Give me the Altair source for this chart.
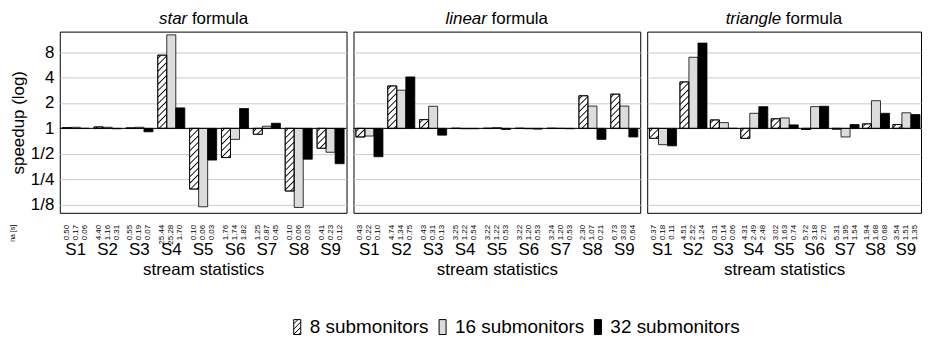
import base64
import altair as alt
import pandas as pd

FONT = "Liberation Sans"

groups = ["S1", "S2", "S3", "S4", "S5", "S6", "S7", "S8", "S9"]
series = ["8 submonitors", "16 submonitors", "32 submonitors"]
formulas = ["star", "linear", "triangle"]

# speedup values (log-scale bars, baseline 1)
star_8 = [1.02, 1.04, 1.01, 7.4, 0.19, 0.45, 0.85, 0.18, 0.58]
star_16 = [1.03, 1.03, 1.03, 12.9, 0.117, 0.74, 1.06, 0.115, 0.52]
star_32 = [1.0, 0.99, 0.91, 1.75, 0.42, 1.72, 1.15, 0.43, 0.38]
linear_8 = [0.79, 3.19, 1.27, 1.0, 1.0, 1.0, 1.0, 2.44, 2.55]
linear_16 = [0.81, 2.84, 1.83, 0.99, 1.02, 0.99, 1.0, 1.84, 1.84]
linear_32 = [0.46, 4.08, 0.83, 0.99, 0.97, 0.98, 0.99, 0.74, 0.79]
triangle_8 = [0.76, 3.56, 1.26, 0.76, 1.30, 0.97, 0.98, 1.13, 1.11]
triangle_16 = [0.64, 6.99, 1.17, 1.51, 1.33, 1.81, 0.79, 2.13, 1.53]
triangle_32 = [0.62, 10.3, 1.0, 1.81, 1.10, 1.83, 1.11, 1.51, 1.46]

# "na [s]" annotation values
star_na_8 = [0.50, 4.40, 0.55, 25.44, 0.10, 1.76, 1.25, 0.10, 0.41]
star_na_16 = [0.17, 1.16, 0.19, 25.28, 0.06, 1.74, 0.87, 0.06, 0.23]
star_na_32 = [0.06, 0.31, 0.07, 1.70, 0.03, 1.82, 0.45, 0.03, 0.12]
linear_na_8 = [0.43, 4.74, 0.43, 3.25, 3.22, 3.22, 3.24, 2.30, 6.73]
linear_na_16 = [0.22, 1.34, 0.31, 1.22, 1.22, 1.20, 1.20, 1.07, 3.03]
linear_na_32 = [0.10, 0.75, 0.13, 0.54, 0.53, 0.53, 0.53, 0.21, 0.64]
triangle_na_8 = [0.37, 4.51, 0.31, 4.31, 3.02, 5.72, 5.31, 1.94, 3.54]
triangle_na_16 = [0.18, 2.52, 0.14, 2.49, 1.63, 3.18, 1.95, 1.68, 1.51]
triangle_na_32 = [0.11, 1.24, 0.06, 2.48, 0.74, 2.70, 1.54, 0.68, 1.35]

speed = {
    "star": [star_8, star_16, star_32],
    "linear": [linear_8, linear_16, linear_32],
    "triangle": [triangle_8, triangle_16, triangle_32],
}
na = {
    "star": [star_na_8, star_na_16, star_na_32],
    "linear": [linear_na_8, linear_na_16, linear_na_32],
    "triangle": [triangle_na_8, triangle_na_16, triangle_na_32],
}

rows = []
for f in formulas:
    for si, s in enumerate(series):
        for gi, g in enumerate(groups):
            rows.append({"formula": f, "series": s, "group": g,
                         "speedup": speed[f][si][gi],
                         "na_label": f"{na[f][si][gi]:.2f}"})
df = pd.DataFrame(rows)
one = pd.DataFrame({"one": [1]})

hatch_svg = (
    '<svg xmlns="http://www.w3.org/2000/svg" width="100%" height="100%">'
    '<defs><pattern id="h" patternUnits="userSpaceOnUse" width="4.6" height="4.6" '
    'patternTransform="rotate(45)"><line x1="2.3" y1="-1" x2="2.3" y2="6" '
    'stroke="black" stroke-width="0.9"/></pattern></defs>'
    '<rect width="100%" height="100%" fill="url(#h)"/></svg>'
)
HATCH_URL = "data:image/svg+xml;base64," + base64.b64encode(hatch_svg.encode()).decode()
RECT_PATH = "M-0.47,-1H0.47V1H-0.47Z"
HATCH_PATH = (RECT_PATH + " M-0.47,-0.43L0.1,-1 M-0.47,0.27L0.47,-0.67"
              " M-0.47,0.97L0.47,0.03 M0.2,1L0.47,0.73")

H = 182
color_scale = alt.Scale(domain=series, range=["#ffffff", "#dcdcdc", "#000000"])
y_scale = alt.Scale(type="log", base=2, domain=[0.0992, 14.1], nice=False)
tick_vals = [0.125, 0.25, 0.5, 1, 2, 4, 8]
label_expr = "datum.value >= 1 ? format(datum.value, 'd') : '1/' + format(1 / datum.value, 'd')"
title_split = {"star": -16, "linear": -10, "triangle": -3}

legend = alt.Legend(title=None, orient="none", legendX=229, legendY=287,
                    direction="horizontal", labelFontSize=19, labelFont=FONT,
                    labelColor="black", symbolSize=225, symbolStrokeColor="black",
                    symbolStrokeWidth=1, symbolOpacity=1, columnPadding=4,
                    labelOffset=3)


def panel(fname, width, first):
    d = df[df.formula == fname]
    xenc = alt.X("group:N", sort=groups,
                 scale=alt.Scale(domain=groups, paddingInner=0.15, paddingOuter=0.075),
                 axis=alt.Axis(title="stream statistics", labelAngle=0, ticks=False,
                               domain=False, labelPadding=29, labelFontSize=17,
                               titleFontSize=17, titleFontWeight="normal",
                               titlePadding=4, grid=False, labelColor="black",
                               titleColor="black"))
    xoff = alt.XOffset("series:N", sort=series,
                       scale=alt.Scale(domain=series, paddingInner=0, paddingOuter=0))
    if first:
        yaxis = alt.Axis(values=tick_vals, labelExpr=label_expr, title="speedup (log)",
                         ticks=False, domain=False, grid=True, gridColor="#cccccc",
                         labelFontSize=17, labelPadding=6, titleFontSize=17,
                         titleFontWeight="normal", titlePadding=3,
                         labelColor="black", titleColor="black")
    else:
        yaxis = alt.Axis(values=tick_vals, labels=False, title=None, ticks=False,
                         domain=False, grid=True, gridColor="#cccccc")
    base = alt.Chart(d).encode(x=xenc, xOffset=xoff)
    yenc = alt.Y("speedup:Q", scale=y_scale, axis=yaxis)
    bars = base.mark_bar(stroke="black", strokeWidth=0.8).encode(
        y=yenc,
        y2=alt.datum(1),
        color=alt.Color("series:N", scale=color_scale, legend=legend),
    )
    b8 = base.transform_filter(alt.datum.series == series[0])
    hatch = b8.mark_image(aspect=False).encode(
        y=yenc, y2=alt.datum(1), url=alt.value(HATCH_URL))
    outline = b8.mark_bar(fill="transparent", stroke="black", strokeWidth=0.8).encode(
        y=yenc, y2=alt.datum(1))
    baseline = alt.Chart(one).mark_rule(color="black", strokeWidth=1).encode(
        y=alt.datum(1))
    ann = base.mark_text(angle=270, align="right", baseline="middle", fontSize=8,
                         color="black").encode(y=alt.value(H + 12), text="na_label:N")
    t1 = alt.Chart(one).mark_text(text=fname, fontStyle="italic", align="right",
                                  baseline="alphabetic", fontSize=17, color="black").encode(
        x=alt.value(width / 2 + title_split[fname]), y=alt.value(-8))
    t2 = alt.Chart(one).mark_text(text="formula", align="left", baseline="alphabetic",
                                  fontSize=17, color="black").encode(
        x=alt.value(width / 2 + title_split[fname] + 4.7), y=alt.value(-8))
    layers = [bars, hatch, outline, baseline, ann, t1, t2]
    if first:
        na_lab = alt.Chart(one).mark_text(text="na [s]", angle=270, align="right",
                                          baseline="middle", fontSize=7, color="black").encode(
            x=alt.value(-47), y=alt.value(H + 12))
        pts = alt.Chart(d).mark_point(filled=True, clip=True, opacity=1, size=225,
                                      strokeWidth=1).encode(
            y=alt.datum(100),
            color=alt.Color("series:N", scale=color_scale, legend=legend),
            stroke=alt.Stroke("series:N",
                              scale=alt.Scale(domain=series,
                                              range=["#000000", "#000000", "#000000"]),
                              legend=legend),
            shape=alt.Shape("series:N",
                            scale=alt.Scale(domain=series,
                                            range=[HATCH_PATH, RECT_PATH, RECT_PATH]),
                            legend=legend),
        )
        layers += [na_lab, pts]
    return alt.layer(*layers).properties(width=width, height=H)


chart = alt.hconcat(
    panel("star", 288, True),
    panel("linear", 288, False),
    panel("triangle", 275, False),
    spacing=5,
).properties(padding=0).configure(font=FONT).configure_view(stroke="black", strokeWidth=1)

chart.save("out.html", embed_options={"renderer": "svg", "actions": False})
